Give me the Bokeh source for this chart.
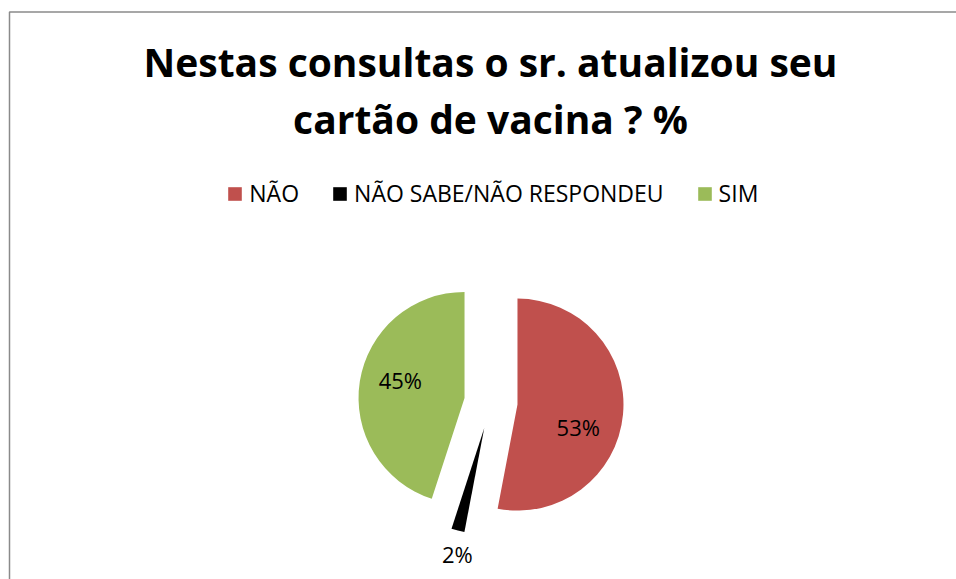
import math
from bokeh.plotting import figure
from bokeh.models import ColumnDataSource, Range1d, Legend, LegendItem
from bokeh.core.properties import value
from bokeh.embed import file_html
from bokeh.resources import INLINE

# ---- data ----
categories = ["NÃO", "NÃO SABE/NÃO RESPONDEU", "SIM"]
percent = [53, 2, 45]
colors = ["#C0504D", "#000000", "#9BBB59"]
title_lines = ["Nestas consultas o sr. atualizou seu", "cartão de vacina ? %"]

# ---- layout (frame pixels, y up) ----
W, H = 956, 579
cx, cy, R, EXPLODE = 490.4, 177.4, 106, 26.7
label_angle = [110, 192, 286]      # clockwise from 12 o'clock
label_rfrac = [0.61, 1.22, 0.63]
FONT = "Open Sans"

p = figure(width=W, height=H, x_range=Range1d(0, W), y_range=Range1d(0, H),
           output_backend="svg", toolbar_location=None, min_border=0,
           outline_line_color=None)
p.axis.visible = False
p.grid.visible = False
p.background_fill_color = "white"
p.border_fill_color = "white"

# chart border (left + top)
p.line(x=[W + 20, 9, 9], y=[H - 11.5, H - 11.5, -20], line_color="#8a8a8a", line_width=1.5)

# pie geometry
total = float(sum(percent))
xs, ys, starts, ends, lx, ly, texts = [], [], [], [], [], [], []
cum = 0.0
for i, v in enumerate(percent):
    a0 = cum / total * 360.0
    a1 = (cum + v) / total * 360.0
    mid = math.radians((a0 + a1) / 2)
    x = cx + EXPLODE * math.sin(mid)
    y = cy + EXPLODE * math.cos(mid)
    xs.append(x)
    ys.append(y)
    starts.append(math.radians(90 - a1))
    ends.append(math.radians(90 - a0))
    la = math.radians(label_angle[i])
    lx.append(x + R * label_rfrac[i] * math.sin(la))
    ly.append(y + R * label_rfrac[i] * math.cos(la))
    texts.append(f"{round(v / total * 100)}%")
    cum += v

src = ColumnDataSource(dict(x=xs, y=ys, start=starts, end=ends, color=colors,
                            cat=categories, lx=lx, ly=ly, txt=texts))
wedges = p.wedge(x="x", y="y", radius=R, start_angle="start", end_angle="end",
                 fill_color="color", line_color=None, source=src)

p.text(x="lx", y="ly", text="txt", source=src, text_align="center",
       text_baseline="middle", text_font=value(FONT), text_font_size="22px",
       text_color="black")

# title
p.text(x=[490, 490], y=[H - 61, H - 118], text=title_lines, text_align="center",
       text_baseline="alphabetic", text_font=value(FONT), text_font_style="bold",
       text_font_size="39px", text_color="black")

# legend
items = [LegendItem(label=c, renderers=[wedges], index=i) for i, c in enumerate(categories)]
legend = Legend(items=items, orientation="horizontal", location=(226.3, H - 209.2),
                glyph_width=17, glyph_height=17, label_height=17, label_standoff=6,
                spacing=32, padding=0, margin=0, border_line_color=None,
                background_fill_alpha=0, label_text_font=FONT,
                label_text_font_size="23px", label_text_color="black")
p.add_layout(legend, "center")

open("out.html", "w").write(file_html(p, INLINE))
